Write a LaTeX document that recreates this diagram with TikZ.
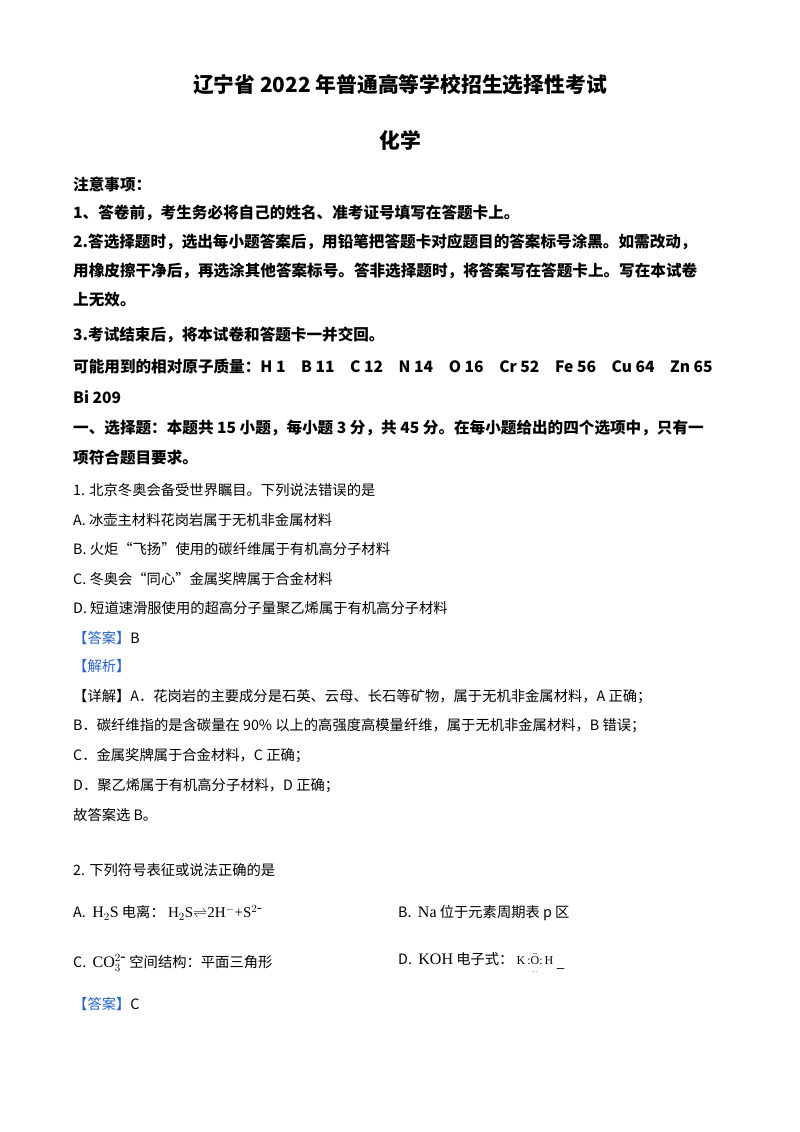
\documentclass[tikz,border=0pt]{standalone}
\usepackage{amsmath}
\usepackage{fontspec}
\setmainfont{Liberation Serif}
\newfontfamily\cjk{Noto Sans CJK SC}
\definecolor{ansblue}{RGB}{40,100,200}
\tikzset{ln/.style={anchor=west,inner sep=0pt,font=\cjk\fontsize{14.3}{14.3}\selectfont},
 bl/.style={anchor=west,inner sep=0pt,font=\cjk\bfseries\fontsize{15.6}{15.6}\selectfont},
 tt/.style={inner sep=0pt,font=\cjk\bfseries\fontsize{20.8}{20.8}\selectfont}}
\begin{document}
\begin{tikzpicture}[x=1pt,y=-1pt]
\useasboundingbox[fill=white] (0,0) rectangle (800,1132);
\node[tt] (t1) at (400,85) {辽宁省 2022 年普通高等学校招生选择性考试};
\node[tt] (t2) at (400,140) {化学};
\node[bl] (n0) at (73,185) {注意事项：};
\node[bl] (n1) at (73,213) {1、答卷前，考生务必将自己的姓名、准考证号填写在答题卡上。};
\node[bl] (n2) at (73,242) {2.答选择题时，选出每小题答案后，用铅笔把答题卡对应题目的答案标号涂黑。如需改动，};
\node[bl] (n3) at (73,271) {用橡皮擦干净后，再选涂其他答案标号。答非选择题时，将答案写在答题卡上。写在本试卷};
\node[bl] (n4) at (73,300) {上无效。};
\node[bl] (n5) at (73,335) {3.考试结束后，将本试卷和答题卡一并交回。};
\node[bl] (n6) at (73,367) {可能用到的相对原子质量：H 1\quad B 11\quad C 12\quad N 14\quad O 16\quad Cr 52\quad Fe 56\quad Cu 64\quad Zn 65};
\node[bl] (n7) at (73,397) {Bi 209};
\node[bl] (n8) at (73,428) {一、选择题：本题共 15 小题，每小题 3 分，共 45 分。在每小题给出的四个选项中，只有一};
\node[bl] (n9) at (73,458) {项符合题目要求。};
\node[ln] (q1) at (73,490) {1. 北京冬奥会备受世界瞩目。下列说法错误的是};
\node[ln] (a1) at (73,520) {A. 冰壶主材料花岗岩属于无机非金属材料};
\node[ln] (b1) at (73,549) {B. 火炬“飞扬”使用的碳纤维属于有机高分子材料};
\node[ln] (c1) at (73,579) {C. 冬奥会“同心”金属奖牌属于合金材料};
\node[ln] (d1) at (73,608) {D. 短道速滑服使用的超高分子量聚乙烯属于有机高分子材料};
\node[ln] (k1) at (73,638) {\textcolor{ansblue}{【答案】}B};
\node[ln] (j1) at (73,666) {\textcolor{ansblue}{【解析】}};
\node[ln] (x1) at (73,697) {【详解】A．花岗岩的主要成分是石英、云母、长石等矿物，属于无机非金属材料，A 正确；};
\node[ln] (x2) at (73,726) {B．碳纤维指的是含碳量在 90\% 以上的高强度高模量纤维，属于无机非金属材料，B 错误；};
\node[ln] (x3) at (73,756) {C．金属奖牌属于合金材料，C 正确；};
\node[ln] (x4) at (73,786) {D．聚乙烯属于有机高分子材料，D 正确；};
\node[ln] (x5) at (73,815) {故答案选 B。};
\node[ln] (q2) at (73,870) {2. 下列符号表征或说法正确的是};
\node[ln] (a2) at (73,913) {A.\ \ {\rmfamily\fontsize{16}{16}\selectfont H$_2$S} 电离：\ {\rmfamily\fontsize{15}{15}\selectfont H$_2$S$\rightleftharpoons$2H$^-$+S$^{2\mbox{-}}$}};
\node[ln] (b2) at (398,913) {B.\ \ {\rmfamily\fontsize{16}{16}\selectfont Na} 位于元素周期表 p 区};
\node[ln] (c2) at (73,963) {C.\ \ {\rmfamily\fontsize{16}{16}\selectfont CO$_3^{2\mbox{-}}$} 空间结构：平面三角形};
\node[ln] (d2) at (398,963) {D.\ \ {\rmfamily\fontsize{16}{16}\selectfont KOH} 电子式：\ {\rmfamily\fontsize{12}{12}\selectfont K\,:$\ddot{\underset{..}{\mathrm{O}}}$:\,H}\ \raisebox{-3pt}{\_}};
\node[ln] (k2) at (73,1004) {\textcolor{ansblue}{【答案】}C};
\end{tikzpicture}
\end{document}
